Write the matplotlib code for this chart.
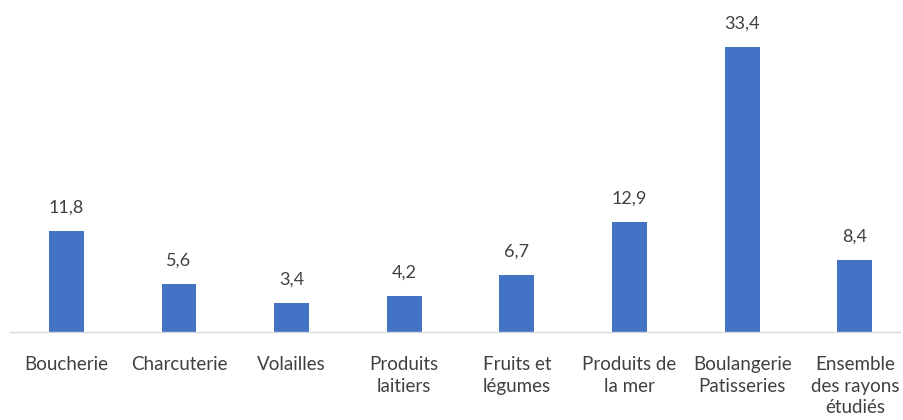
import matplotlib.pyplot as plt

categories = ['Boucherie', 'Charcuterie', 'Volailles', 'Produits\nlaitiers',
              'Fruits et\nlégumes', 'Produits de\nla mer', 'Boulangerie\nPatisseries',
              'Ensemble\ndes rayons\nétudiés']
values = [11.8, 5.6, 3.4, 4.2, 6.7, 12.9, 33.4, 8.4]

plt.rcParams['font.family'] = ['Lato', 'DejaVu Sans']

fig = plt.figure(figsize=(9.04, 4.20), dpi=100)
ax = fig.add_axes([10 / 904, 88 / 420, 890 / 904, 324 / 420])

x = range(len(categories))
bars = ax.bar(x, values, width=0.31, color='#4472C4')

for b, v in zip(bars, values):
    ax.text(b.get_x() + b.get_width() / 2, v + 1.8, f'{v:.1f}'.replace('.', ','),
            ha='center', va='bottom', fontsize=13, color='#404040')

ax.set_xlim(-0.5, 7.4)
ax.set_ylim(0, 38)
ax.set_xticks(list(x))
ax.set_xticklabels(categories, fontsize=13.5, color='#404040', linespacing=1.35, va='top')
ax.tick_params(axis='x', length=0, pad=17)
ax.set_yticks([])
for side in ['top', 'right', 'left']:
    ax.spines[side].set_visible(False)
ax.spines['bottom'].set_color('#D9D9D9')
ax.spines['bottom'].set_linewidth(1)

fig.savefig('out.png', dpi=100)
